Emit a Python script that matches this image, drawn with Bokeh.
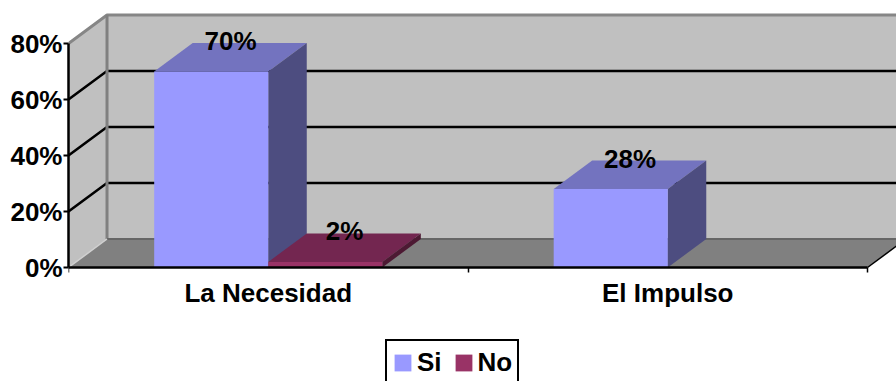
from bokeh.core.properties import value
from bokeh.embed import file_html
from bokeh.models import ColumnDataSource, FixedTicker, Legend, LegendItem, PrintfTickFormatter, Range1d
from bokeh.plotting import figure
from bokeh.resources import INLINE

categories = ["La Necesidad", "El Impulso"]
si_values = [70, 28]
no_values = [2, None]
y_ticks = [0, 20, 40, 60, 80]

FONT = "Liberation Sans"
SIZE = "26px"
BAR_W = 0.2855
BAR_START = 0.2145
DX = 0.0964   # oblique depth, in category units
DY = 10.18    # oblique depth, in percent units
N = len(categories)
Y_MAX = y_ticks[-1]

p = figure(width=896, height=381, output_backend="svg", toolbar_location=None,
           x_range=Range1d(0, 828 / 399.5), y_range=Range1d(-114 / 2.8, 267 / 2.8),
           min_border_left=68, min_border_right=0, min_border_top=0, min_border_bottom=0,
           outline_line_color=None, background_fill_color="white", border_fill_color="white")
p.grid.visible = False

# Walls and floor of the oblique box
p.patch([DX, N + DX, N + DX, DX], [DY, DY, Y_MAX + DY, Y_MAX + DY], fill_color="#C0C0C0", line_color=None)
p.patch([0, DX, DX, 0], [0, DY, Y_MAX + DY, Y_MAX], fill_color="#C0C0C0", line_color=None)
p.patch([0, N, N + DX, DX], [0, 0, DY, DY], fill_color="#808080", line_color=None)

# Gridlines run along the side wall and then the back wall
for t in y_ticks[1:-1]:
    p.line([0, DX, N + DX], [t, t + DY, t + DY], line_color="black", line_width=2.5)

p.line([0, DX, N + DX], [Y_MAX, Y_MAX + DY, Y_MAX + DY], line_color="#868686", line_width=3)
p.line([DX, DX], [DY, Y_MAX + DY], line_color="#808080", line_width=3)
p.line([DX, N + DX], [DY, DY], line_color="#666666", line_width=2)
p.line([0, DX], [0, DY], line_color="#D0D0D0", line_width=1.5)
p.line([N, N + DX], [0, DY], line_color="black", line_width=1.5)


def draw_series(values, offset, front, top, side):
    idx = [i for i, v in enumerate(values) if v is not None]
    lefts = [i + BAR_START + offset * BAR_W for i in idx]
    tops = [values[i] for i in idx]
    for x0, v in zip(lefts, tops):
        x1 = x0 + BAR_W
        p.patch([x0, x1, x1 + DX, x0 + DX], [v, v, v + DY, v + DY], fill_color=top, line_color=None)
        p.patch([x1, x1 + DX, x1 + DX, x1], [0, DY, v + DY, v], fill_color=side, line_color=None)
    src = ColumnDataSource(dict(x=[x + BAR_W / 2 for x in lefts], top=tops))
    return p.vbar(x="x", top="top", bottom=0, width=BAR_W, source=src, fill_color=front, line_color=None)


si_bars = draw_series(si_values, 0, "#9999FF", "#7373BF", "#4D4D80")
no_bars = draw_series(no_values, 1, "#993366", "#732650", "#4D1933")

# Value labels sit on the back edge of each bar's top face
for values, offset in ((si_values, 0), (no_values, 1)):
    for i, v in enumerate(values):
        if v is not None:
            p.text([i + BAR_START + offset * BAR_W + BAR_W / 2 + DX / 2], [v + DY], text=[f"{v}%"],
                   text_font=value(FONT), text_font_size=SIZE, text_font_style="bold",
                   text_color="black", text_align="center", text_baseline="middle", y_offset=-2)

# Axes
ya = p.yaxis[0]
ya.ticker = FixedTicker(ticks=y_ticks)
ya.formatter = PrintfTickFormatter(format="%d%%")
ya.bounds = (0, Y_MAX)
ya.axis_line_color = "black"
ya.axis_line_width = 2.5
ya.major_tick_line_color = "black"
ya.major_tick_line_width = 2
ya.major_tick_in = 0
ya.major_tick_out = 5
ya.minor_tick_line_color = None
ya.major_label_standoff = 1
ya.major_label_text_font = FONT
ya.major_label_text_font_size = SIZE
ya.major_label_text_font_style = "bold"
ya.major_label_text_color = "black"

xa = p.xaxis[0]
centers = [i + 0.5 for i in range(N)]
xa.fixed_location = 0
xa.ticker = FixedTicker(ticks=centers, minor_ticks=list(range(N + 1)))
xa.major_label_overrides = dict(zip(centers, categories))
xa.bounds = (0, N)
xa.axis_line_color = "black"
xa.axis_line_width = 2.5
xa.major_tick_line_color = None
xa.major_tick_in = 0
xa.major_tick_out = 0
xa.minor_tick_line_color = "black"
xa.minor_tick_line_width = 1.5
xa.minor_tick_in = 0
xa.minor_tick_out = 5
xa.major_label_standoff = 5
xa.major_label_text_font = FONT
xa.major_label_text_font_size = SIZE
xa.major_label_text_font_style = "bold"
xa.major_label_text_color = "black"

legend = Legend(items=[LegendItem(label="Si", renderers=[si_bars]), LegendItem(label="No", renderers=[no_bars])],
                orientation="horizontal", location=(317, -5), margin=0, padding=5, spacing=11,
                glyph_width=21, glyph_height=21, label_standoff=4, label_height=33,
                label_text_font=FONT, label_text_font_size=SIZE, label_text_font_style="bold",
                label_text_color="black", border_line_color="black", border_line_width=2.5,
                border_line_alpha=1, background_fill_color="white", background_fill_alpha=1)
p.add_layout(legend, "center")

open("out.html", "w").write(file_html(p, INLINE))
